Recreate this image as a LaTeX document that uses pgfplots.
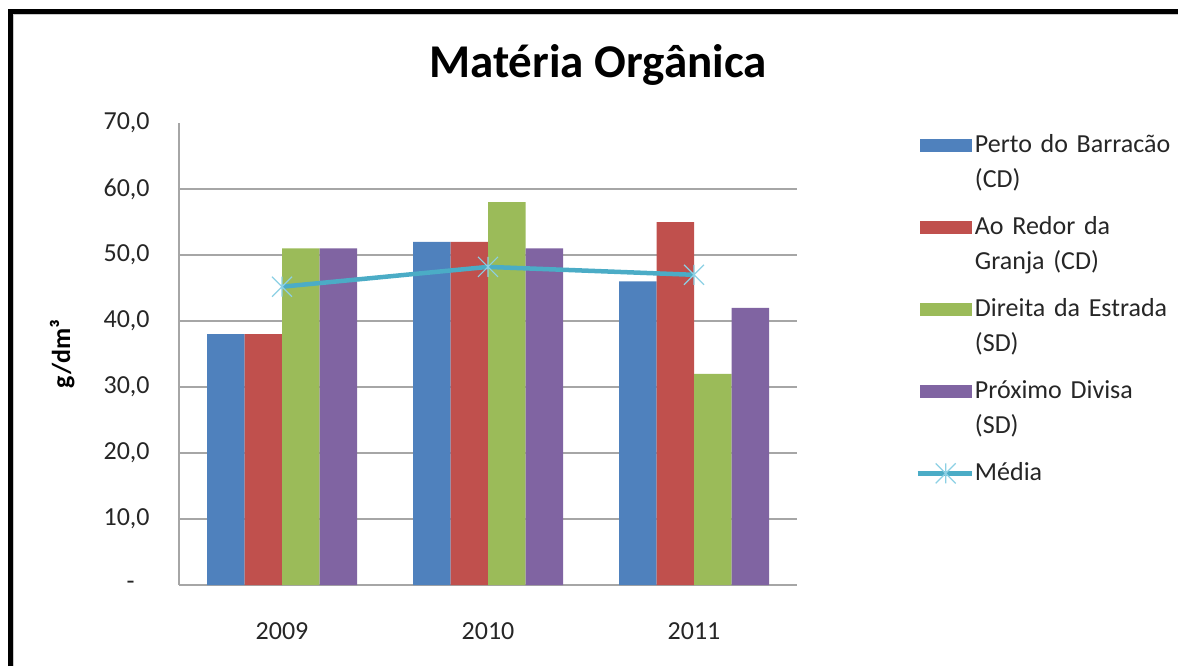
\documentclass[border=0pt]{standalone}
\usepackage{pgfplots}
\pgfplotsset{compat=1.18}
\usepackage{pgfplotstable}
\usepackage{fontspec}
\setmainfont{Carlito}
\definecolor{cblue}{HTML}{4F81BD}
\definecolor{cred}{HTML}{C0504D}
\definecolor{cgreen}{HTML}{9BBB59}
\definecolor{cpurple}{HTML}{8064A2}
\definecolor{ccyan}{HTML}{4BACC6}
\definecolor{cstar}{HTML}{8CD0E4}
\definecolor{cgrid}{HTML}{A6A6A6}

\pgfdeclareplotmark{xstar}{%
 \pgfpathmoveto{\pgfqpoint{-\pgfplotmarksize}{-\pgfplotmarksize}}%
 \pgfpathlineto{\pgfqpoint{\pgfplotmarksize}{\pgfplotmarksize}}%
 \pgfpathmoveto{\pgfqpoint{-\pgfplotmarksize}{\pgfplotmarksize}}%
 \pgfpathlineto{\pgfqpoint{\pgfplotmarksize}{-\pgfplotmarksize}}%
 \pgfpathmoveto{\pgfqpoint{0pt}{-\pgfplotmarksize}}%
 \pgfpathlineto{\pgfqpoint{0pt}{\pgfplotmarksize}}%
 \pgfusepathqstroke}

\pgfplotstableread{
x a b c d m
0 38 38 51 51 45.2
1 52 52 58 51 48.2
2 46 55 32 42 47.0
}\datatable

\pgfplotsset{
 barleg/.style={legend image code/.code={\fill[##1] (0pt,-3.2pt) rectangle (26pt,3.4pt);}},
 lineleg/.style={legend image code/.code={\draw[##1,mark repeat=2,mark phase=2] plot coordinates {(-1pt,0pt) (13pt,0pt) (26pt,0pt)};}},
}

\begin{document}
\begin{tikzpicture}
\path[use as bounding box] (0pt,0pt) rectangle (589pt,333pt);
\draw[cgrid!60, line width=0.5pt] (6.6pt,0pt) -- (6.6pt,325.7pt) -- (589pt,325.7pt);
\draw[black, line width=2.5pt, line join=miter] (5pt,0pt) -- (5pt,327.25pt) -- (589pt,327.25pt);
\node[font=\bfseries\fontsize{23.5}{28}\selectfont] at (299pt,300.5pt) {Matéria Orgânica};
\begin{axis}[
 at={(89.5pt,40.5pt)}, anchor=south west, scale only axis,
 width=309pt, height=231pt,
 xmin=-0.5, xmax=2.5, ymin=0, ymax=70,
 ybar=0pt, bar width=18.75pt,
 xtick={0,1,2}, xticklabels={2009,2010,2011},
 ytick={0,10,...,60},
 yticklabels={{-\rule{7.5pt}{0pt}},{10,0},{20,0},{30,0},{40,0},{50,0},{60,0}},
 extra y ticks={70}, extra y tick labels={70{,}0}, extra y tick style={grid=none},
 ymajorgrids, major grid style={cgrid, line width=0.7pt},
 axis x line*=bottom, axis y line*=left,
 axis line style={cgrid, line width=0.7pt, -},
 major tick length=0pt, tick style={draw=none},
 tick label style={font=\fontsize{13}{15}\selectfont, color=black!85},
 yticklabel style={inner sep=0pt, anchor=east, xshift=-14.5pt},
 xticklabel style={inner sep=0pt, anchor=north, yshift=-18.4pt},
 ylabel={g/dm³},
 ylabel style={at={(rel axis cs:-0.189,0.5)}, anchor=center, font=\bfseries\fontsize{13}{15}\selectfont},
 legend style={at={(rel axis cs:1.191,0.984)}, anchor=north west, draw=none, fill=none,
   inner sep=0pt, row sep=26.5pt, column sep=0pt,
   font=\fontsize{13}{17.5}\selectfont, text=black!85,
   nodes={inner ysep=2pt, inner xsep=0.5pt, text width=105pt, align=left}, cells={anchor=west}},
 legend cell align=left,
]
\addplot[fill=cblue, draw=none, barleg] table[x=x,y=a]{\datatable};
\addlegendentry{Perto do Barracão\\(CD)}
\addplot[fill=cred, draw=none, barleg] table[x=x,y=b]{\datatable};
\addlegendentry{Ao Redor da\\Granja (CD)}
\addplot[fill=cgreen, draw=none, barleg] table[x=x,y=c]{\datatable};
\addlegendentry{Direita da Estrada\\(SD)}
\addplot[fill=cpurple, draw=none, barleg] table[x=x,y=d]{\datatable};
\addlegendentry{Próximo Divisa\\(SD)}
\addplot[sharp plot, draw=ccyan, line width=2.25pt, mark=xstar, mark size=5pt,
  mark options={draw=cstar, line width=0.6pt}, lineleg]
  table[x=x,y=m]{\datatable};
\addlegendentry{Média}
\end{axis}
\end{tikzpicture}
\end{document}
